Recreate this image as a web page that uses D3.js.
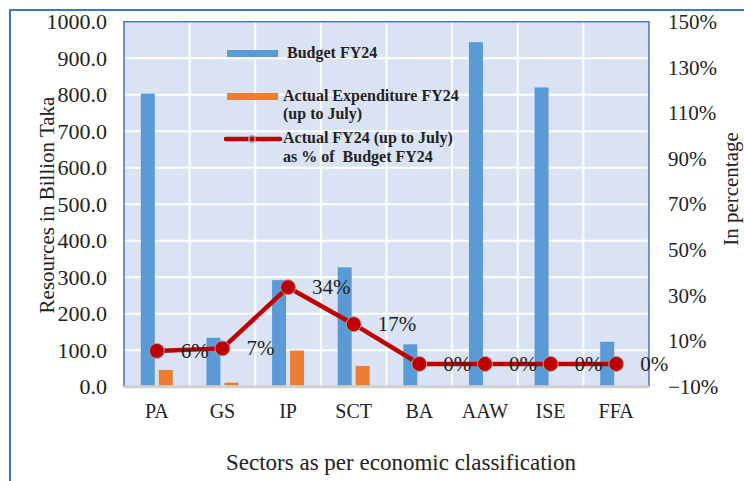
<!DOCTYPE html>
<html><head><meta charset="utf-8">
<script src="https://cdn.jsdelivr.net/npm/d3@7"></script>
<style>
html,body{margin:0;padding:0;background:#fff;}
text{font-family:"Liberation Serif","Times New Roman",serif;fill:#222;}
</style></head>
<body><svg id="c" width="744" height="481"></svg>
<script>
const categories = ["PA","GS","IP","SCT","BA","AAW","ISE","FFA"];
const budget = [803, 134, 292, 327, 116, 944, 820, 123];
const actual = [46, 11, 99, 57, 0, 0, 0, 0];
const pct = [0.057, 0.068, 0.336, 0.174, 0, 0, 0, 0];
const pctLabels = ["6%","7%","34%","17%","0%","0%","0%","0%"];
const leftTicks = [0,100,200,300,400,500,600,700,800,900,1000];
const rightTicks = [-0.1,0.1,0.3,0.5,0.7,0.9,1.1,1.3,1.5];

const svg = d3.select("#c");
const L = 124, R = 649, T = 21.7, B = 386.7;
const blue = "#5B9BD5", orange = "#ED7D31", red = "#C00000";

// outer frame
svg.append("rect").attr("x",10).attr("y",10).attr("width",760).attr("height",500)
  .attr("fill","none").attr("stroke","#4472C4").attr("stroke-width",2);

const x = d3.scaleBand().domain(categories).range([L,R]).padding(0);
const y = d3.scaleLinear().domain([0,1000]).range([B,T]);
const y2 = d3.scaleLinear().domain([-0.1,1.5]).range([B,T]);

// plot background
svg.append("rect").attr("x",L).attr("y",T).attr("width",R-L).attr("height",B-T).attr("fill","#DAE3F3");

// grid
svg.append("g").selectAll("line").data(leftTicks.slice(1)).join("line")
  .attr("x1",L).attr("x2",R).attr("y1",d=>y(d)).attr("y2",d=>y(d))
  .attr("stroke","#fff").attr("stroke-width",2);
svg.append("g").selectAll("line").data(categories.slice(1)).join("line")
  .attr("x1",d=>x(d)).attr("x2",d=>x(d)).attr("y1",T).attr("y2",B)
  .attr("stroke","#fff").attr("stroke-width",2);

// plot border
svg.append("path").attr("d",`M${L},${B}V${T}H${R}V${B}`).attr("fill","none").attr("stroke","#4472C4").attr("stroke-width",1.5);

// bars
const bw = 14;
svg.append("g").selectAll("rect").data(budget).join("rect")
  .attr("x",(d,i)=>x(categories[i])+x.bandwidth()/2-bw-2).attr("width",bw)
  .attr("y",d=>y(d)).attr("height",d=>y(0)-y(d)).attr("fill",blue);
svg.append("g").selectAll("rect").data(actual).join("rect")
  .attr("x",(d,i)=>x(categories[i])+x.bandwidth()/2+2).attr("width",bw)
  .attr("y",d=>y(d)).attr("height",d=>y(0)-y(d)).attr("fill",orange);

// bottom axis line
svg.append("line").attr("x1",L).attr("x2",R).attr("y1",B).attr("y2",B).attr("stroke","#D0D0D0").attr("stroke-width",3);

// left axis
const ax = svg.append("g").attr("transform",`translate(${L},0)`)
  .call(d3.axisLeft(y).tickValues(leftTicks).tickFormat(d3.format(".1f")).tickSize(0).tickPadding(17));
ax.select(".domain").remove();
ax.selectAll("text").attr("font-size",22).attr("font-family","Liberation Serif").attr("fill","#222");

// right axis
const ar = svg.append("g").attr("transform",`translate(${R},0)`)
  .call(d3.axisRight(y2).tickValues(rightTicks).tickFormat(d3.format(".0%")).tickSize(0).tickPadding(19));
ar.select(".domain").remove();
ar.selectAll("text").attr("font-size",21).attr("font-family","Liberation Serif").attr("fill","#222");

// bottom axis
const abx = svg.append("g").attr("transform",`translate(0,${B})`)
  .call(d3.axisBottom(x).tickSize(0).tickPadding(17));
abx.select(".domain").remove();
abx.selectAll("text").attr("font-size",20).attr("font-family","Liberation Serif").attr("fill","#222");

// titles
svg.append("text").attr("transform",`translate(54,205) rotate(-90)`).attr("text-anchor","middle")
  .attr("font-size",21).text("Resources in Billion Taka");
svg.append("text").attr("transform",`translate(738,189) rotate(-90)`).attr("text-anchor","middle")
  .attr("font-size",21).text("In percentage");
svg.append("text").attr("x",401).attr("y",470).attr("text-anchor","middle")
  .attr("font-size",23).text("Sectors as per economic classification");

// line
const cx = (d,i)=>x(categories[i])+x.bandwidth()/2;
svg.append("path").datum(pct)
  .attr("d",d3.line().x(cx).y(d=>y2(d)))
  .attr("fill","none").attr("stroke",red).attr("stroke-width",4.5);
svg.append("g").selectAll("circle").data(pct).join("circle")
  .attr("cx",cx).attr("cy",d=>y2(d)).attr("r",7.5)
  .attr("fill",red).attr("stroke","#A6A6A6").attr("stroke-width",1);
svg.append("g").selectAll("text").data(pct).join("text")
  .attr("x",(d,i)=>cx(d,i)+24).attr("y",d=>y2(d)+7)
  .attr("font-size",21).text((d,i)=>pctLabels[i]);

// legend
const lg = svg.append("g");
lg.append("rect").attr("x",227).attr("y",50).attr("width",51).attr("height",7).attr("fill",blue);
lg.append("rect").attr("x",227).attr("y",93).attr("width",51).attr("height",7).attr("fill",orange);
lg.append("line").attr("x1",226).attr("x2",280).attr("y1",139).attr("y2",139).attr("stroke",red).attr("stroke-width",4.5).attr("stroke-linecap","round");
lg.append("circle").attr("cx",252).attr("cy",139).attr("r",3.2).attr("fill",red).attr("stroke","#A6A6A6").attr("stroke-width",1.5);
const legText = [[287,58,"Budget FY24"],[283,101,"Actual Expenditure FY24"],[283,119,"(up to July)"],[283,143,"Actual FY24 (up to July)"],[283,162,"as % of  Budget FY24"]];
lg.selectAll("text").data(legText).join("text").attr("x",d=>d[0]).attr("y",d=>d[1])
  .attr("font-size",16).attr("font-weight","bold").style("white-space","pre").text(d=>d[2]);
</script></body></html>
